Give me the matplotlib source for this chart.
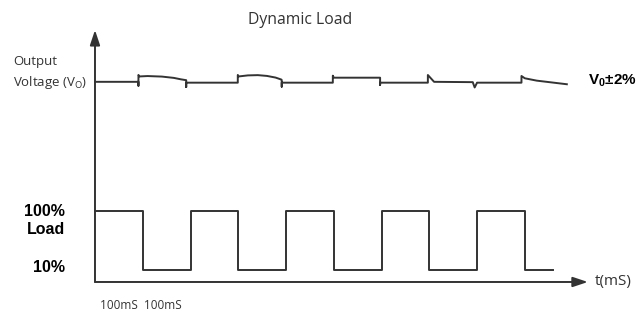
import matplotlib
matplotlib.use("Agg")
import matplotlib.pyplot as plt

# ---- data (time in ms, levels in arbitrary diagram units: load in %) ----
load_t = [0, 100, 200, 300, 400, 500, 600, 700, 800, 900, 960]
load_pct = [100, 10, 100, 10, 100, 10, 100, 10, 100, 10, 10]

# output voltage trace (time ms, level in diagram units)
vout_t = [0, 91, 91, 91, 93, 110, 140, 165, 180, 191, 191, 191,
          299, 299, 301, 320, 341, 360, 378, 390, 391, 391, 391,
          498, 498, 500, 597, 597, 597,
          697, 697, 710, 791,
          791, 795, 800,
          893, 893, 900, 925, 988]
vout_v = [297, 297, 291, 307.5, 305.2, 305.8, 305.0, 303.0, 300.8, 299.5, 289, 295.7,
          295.7, 307.5, 305.2, 306.8, 307.2, 306.0, 303.5, 300.5, 299.8, 289.6, 295.7,
          295.7, 306.4, 303.3, 303.3, 292.2, 295.7,
          295.7, 307.4, 297.0, 296.5,
          296.5, 288.4, 295.7,
          295.7, 305.9, 302.4, 298.8, 293.3]

axis_t_end = 1032
axis_v_top = 376
axis_v_zero = -8.3

col = "#333333"
fig = plt.figure(figsize=(6.38, 3.13), dpi=100)
ax = fig.add_axes([0, 0, 1, 1])
ax.set_xlim(-198.9, 1137)
ax.set_ylim(-55.6, 421.8)
ax.axis("off")

ax.step(load_t, load_pct, where="post", color=col, lw=1.4)
ax.plot(vout_t, vout_v, color=col, lw=1.4)

arrow = dict(arrowstyle="-|>,head_length=0.6,head_width=0.2", mutation_scale=15,
             color="black", lw=1.4, shrinkA=0, shrinkB=0)
ax.annotate("", xy=(0, axis_v_top), xytext=(0, axis_v_zero), arrowprops=dict(arrow, color=col))
ax.annotate("", xy=(axis_t_end, axis_v_zero), xytext=(0, axis_v_zero), arrowprops=dict(arrow, color=col))

def fx(x):
    return x / 638.0
def fy(y):
    return 1 - y / 313.0

reg = ["Open Sans", "DejaVu Sans"]
bold = ["Liberation Sans", "DejaVu Sans"]
fig.text(fx(300), fy(20), "Dynamic Load", ha="center", va="center", fontsize=11.3,
         family=reg, color=col)
fig.text(fx(13), fy(62), "Output", ha="left", va="center", fontsize=9.5, family=reg, color=col)
fig.text(fx(13), fy(82), "Voltage (V$_\\mathregular{O}$)", ha="left", va="center",
         fontsize=9.5, family=reg, color=col)
fig.text(fx(588), fy(81), "V$_\\mathregular{0}$±2%", ha="left", va="center", fontsize=11,
         family=bold, fontweight="bold", color="black")
fig.text(fx(65), fy(212), "100%", ha="right", va="center", fontsize=11.5,
         family=bold, fontweight="bold", color="black")
fig.text(fx(65), fy(229.5), "Load", ha="right", va="center", fontsize=11.5,
         family=bold, fontweight="bold", color="black")
fig.text(fx(65), fy(267.5), "10%", ha="right", va="center", fontsize=11.5,
         family=bold, fontweight="bold", color="black")
fig.text(fx(100), fy(305.5), "100mS  100mS", ha="left", va="center", fontsize=8.5,
         family=reg, color=col)
fig.text(fx(595), fy(282), "t(mS)", ha="left", va="center", fontsize=11,
         family=reg, color=col)

fig.savefig("out.png", dpi=100, facecolor="white")
